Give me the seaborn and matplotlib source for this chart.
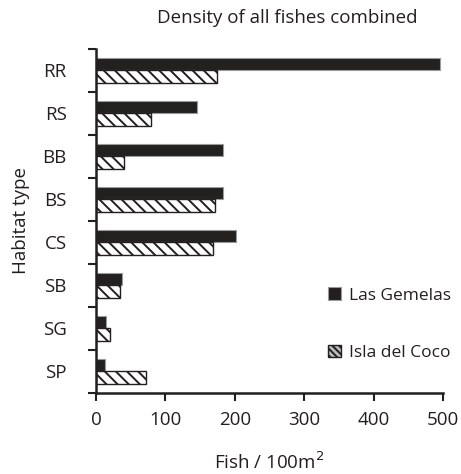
import matplotlib
matplotlib.use("Agg")
import matplotlib.pyplot as plt
import seaborn as sns
import pandas as pd
from matplotlib.patches import Patch

habitats = ["RR", "RS", "BB", "BS", "CS", "SB", "SG", "SP"]
las_gemelas = [495, 145, 183, 183, 202, 37, 15, 13]
isla_del_coco = [175, 79, 40, 171, 168, 35, 21, 72]
sites = ["Las Gemelas", "Isla del Coco"]
x_ticks = [0, 100, 200, 300, 400, 500]

sns.set_theme(style="white")
plt.rcParams["font.family"] = ["Open Sans", "DejaVu Sans"]
plt.rcParams["hatch.linewidth"] = 1.4

ink = "#231f20"
fs = 13.5

df = pd.DataFrame({
    "habitat": habitats * 2,
    "density": las_gemelas + isla_del_coco,
    "site": [sites[0]] * len(habitats) + [sites[1]] * len(habitats),
})

fig = plt.figure(figsize=(4.61, 4.74), dpi=100)
ax = fig.add_axes([0.208, 0.171, 0.753, 0.726])

sns.barplot(data=df, x="density", y="habitat", hue="site", order=habitats,
            hue_order=sites, orient="h", palette=[ink, "white"],
            width=0.58, ax=ax, legend=False, errorbar=None)

for bar in ax.containers[0]:
    bar.set_edgecolor("#9a9a9a")
    bar.set_linewidth(0.8)
for bar in ax.containers[1]:
    bar.set_edgecolor(ink)
    bar.set_linewidth(1.0)
    bar.set_hatch("\\\\\\")

ax.set_xlim(0, 500)
ax.set_xticks(x_ticks)
ax.set_ylim(len(habitats) - 0.5, -0.5)
# group boundaries carry the tick marks, group centres carry the names
ax.set_yticks([i - 0.5 for i in range(len(habitats) + 1)], minor=False)
ax.set_yticklabels([])
ax.set_yticks(range(len(habitats)), minor=True)
ax.set_yticklabels(habitats, minor=True)
ax.tick_params(axis="y", which="major", length=6, width=1.5, direction="out",
               left=True, color=ink)
ax.tick_params(axis="y", which="minor", length=0, pad=21, labelsize=fs,
               labelcolor=ink)
ax.tick_params(axis="x", length=6, width=1.5, direction="out", bottom=True,
               color=ink, labelsize=fs, labelcolor=ink, pad=7)

for side in ["top", "right"]:
    ax.spines[side].set_visible(False)
for side in ["left", "bottom"]:
    ax.spines[side].set_color(ink)
    ax.spines[side].set_linewidth(1.8)

ax.set_xlabel("Fish / 100m$^2$", fontsize=fs, color=ink, labelpad=16)
ax.set_ylabel("Habitat type", fontsize=fs, color=ink, labelpad=9)
fig.text(287 / 461, 1 - 18 / 474, "Density of all fishes combined",
         ha="center", va="center", fontsize=fs, color=ink)

handles = [
    Patch(facecolor=ink, edgecolor="#9a9a9a", linewidth=0.8),
    Patch(facecolor="#bbbbbb", edgecolor=ink, linewidth=1.0, hatch="\\\\\\\\\\"),
]
ax.legend(handles, sites, loc="upper left", bbox_to_anchor=(0.625, 0.352),
          frameon=False, fontsize=12.5, handlelength=0.75, handleheight=0.75,
          handletextpad=0.45, labelspacing=2.35, labelcolor=ink)

fig.savefig("out.png", dpi=100)
